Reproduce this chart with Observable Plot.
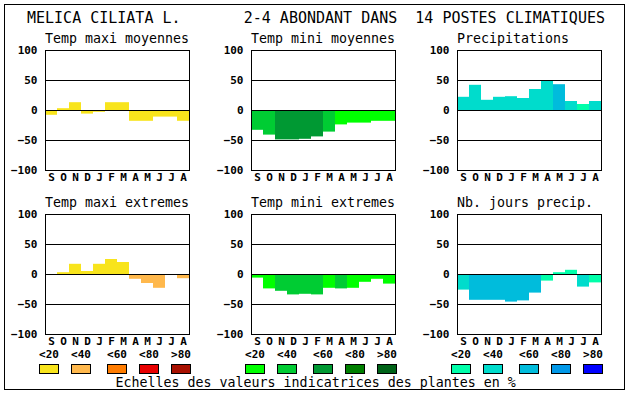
<!DOCTYPE html>
<html>
<head>
<meta charset="utf-8">
<script src="https://cdn.jsdelivr.net/npm/d3@7"></script>
<script src="https://cdn.jsdelivr.net/npm/@observablehq/plot@0.6"></script>
<style>
  html, body { margin: 0; padding: 0; background: #fff; }
  #page { position: relative; width: 630px; height: 394px; background: #fff; overflow: hidden; font-family: "DejaVu Sans Mono", monospace; color: #000; }
  .abs { position: absolute; white-space: pre; }
  .border { position: absolute; left: 4px; top: 4px; width: 621px; height: 386px; border: 1px solid #000; box-sizing: border-box; }
  .title { font-size: 15px; line-height: 15px; }
  .sub { font-size: 13.3px; line-height: 13.3px; }
  .leglab { font-size: 11px; line-height: 11px; font-weight: bold; width: 30px; text-align: center; }
  .sw { position: absolute; width: 20px; height: 10px; border: 1px solid #000; box-sizing: border-box; }
</style>
</head>
<body>
<div id="page"><div class="border"></div></div>
<script>
// ---- data ----
const months = ["S","O","N","D","J","F","M","A","M","J","J","A"];
const yTicks = [-100, -50, 0, 50, 100];
const classLabels = ["<20", "<40", "<60", "<80", ">80"];
const warmColors = ["#f8e41c", "#ffb84c", "#ff7c00", "#e80000", "#a81000"];
const greenColors = ["#00ff00", "#00cc33", "#009933", "#007f00", "#006318"];
const blueColors = ["#00ffaa", "#00dccc", "#00bcdc", "#0098e8", "#0000ff"];

const titleText = "MELICA CILIATA L.       2-4 ABONDANT DANS  14 POSTES CLIMATIQUES";
const captionText = "Echelles des valeurs indicatrices des plantes en %";
const panelTitles = ["Temp maxi moyennes", "Temp mini moyennes", "Precipitations",
                     "Temp maxi extremes", "Temp mini extremes", "Nb. jours precip."];

const tempMaxiMoy    = [-8, 3, 13, -6, -3, 13, 13, -18, -18, -11, -11, -18];
const tempMaxiMoyCls = [0, 0, 0, 0, 0, 0, 0, 0, 0, 0, 0, 0];
const tempMiniMoy    = [-33, -41, -49, -49, -48, -44, -36, -24, -21, -21, -18, -18];
const tempMiniMoyCls = [1, 1, 2, 2, 2, 2, 1, 0, 0, 0, 0, 0];
const precip         = [22, 42, 17, 22, 23, 20, 35, 49, 43, 15, 10, 15];
const precipCls      = [1, 1, 1, 1, 1, 1, 1, 1, 2, 1, 0, 1];
const tempMaxiExt    = [0, 3, 17, 5, 17, 25, 20, -8, -15, -23, 0, -7];
const tempMaxiExtCls = [0, 0, 0, 0, 0, 0, 0, 1, 1, 1, 0, 1];
const tempMiniExt    = [-6, -24, -28, -34, -33, -34, -23, -24, -23, -13, -8, -16];
const tempMiniExtCls = [0, 0, 1, 1, 1, 1, 0, 1, 0, 0, 0, 0];
const joursPrecip    = [-26, -43, -43, -43, -46, -44, -31, -11, 3, 7, -21, -14];
const joursPrecipCls = [1, 2, 2, 2, 2, 2, 2, 0, 0, 0, 1, 0];

// ---- layout ----
const page = document.getElementById("page");
const colLeft = [45, 251, 457];   // frame left edges
const rowTop = [50, 214];         // frame top edges
const mL = 45, mT = 5, mR = 2, mB = 20, fw = 144, fh = 120;

function addText(cls, text, left, top) {
  const d = document.createElement("div");
  d.className = "abs " + cls;
  d.textContent = text;
  d.style.left = left + "px";
  d.style.top = top + "px";
  page.appendChild(d);
  return d;
}

addText("title", titleText, 27, 10.8);
addText("sub", captionText, 115.5, 375.6);

const panels = [
  {values: tempMaxiMoy, cls: tempMaxiMoyCls, colors: warmColors},
  {values: tempMiniMoy, cls: tempMiniMoyCls, colors: greenColors},
  {values: precip, cls: precipCls, colors: blueColors},
  {values: tempMaxiExt, cls: tempMaxiExtCls, colors: warmColors},
  {values: tempMiniExt, cls: tempMiniExtCls, colors: greenColors},
  {values: joursPrecip, cls: joursPrecipCls, colors: blueColors}
];

panels.forEach((p, k) => {
  const col = k % 3, row = Math.floor(k / 3);
  const fx = colLeft[col], fy = rowTop[row];
  const data = p.values.map((v, i) => ({i, v, c: p.colors[p.cls[i]]}));
  const svg = Plot.plot({
    width: mL + fw + mR,
    height: mT + fh + mB,
    marginLeft: mL, marginRight: mR, marginTop: mT, marginBottom: mB,
    style: {fontFamily: "DejaVu Sans Mono", fontSize: "11px", fontWeight: "bold", color: "#000", background: "transparent"},
    x: {type: "band", domain: d3.range(12), padding: 0, tickSize: 0, tickPadding: 3, tickFormat: i => months[i], label: null},
    y: {domain: [-100, 100], ticks: yTicks, tickSize: 0, tickPadding: 8, label: null},
    color: {type: "identity"},
    marks: [
      Plot.barY(data, {x: "i", y: "v", fill: "c", inset: 0}),
      Plot.ruleY([-50, 0, 50], {stroke: "#000"}),
      Plot.frame({stroke: "#000"})
    ]
  });
  const wrap = document.createElement("div");
  wrap.className = "abs";
  wrap.style.left = (fx - mL) + "px";
  wrap.style.top = (fy - mT) + "px";
  wrap.appendChild(svg);
  page.appendChild(wrap);
  addText("sub", panelTitles[k], fx, fy - 18.4);

  if (row === 1) {
    const offs = [-6, 26, 62, 94, 126];
    classLabels.forEach((lab, j) => {
      addText("leglab", lab, fx + offs[j] - 5, 348.7);
      const s = document.createElement("div");
      s.className = "sw";
      s.style.left = (fx + offs[j]) + "px";
      s.style.top = "364px";
      s.style.background = p.colors[j];
      page.appendChild(s);
    });
  }
});
</script>
</body>
</html>
